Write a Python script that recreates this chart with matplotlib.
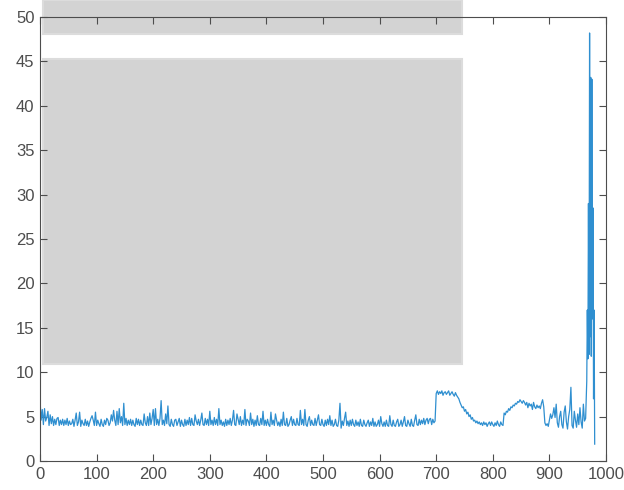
import numpy as np
import matplotlib.pyplot as plt
from matplotlib.patches import Rectangle

plt.rcParams['font.family'] = ['Liberation Sans', 'DejaVu Sans']

# flat part, one value every 2 samples, x = 0 .. 698
base_y = [6.9, 4.6, 5.8, 4.1, 5.9, 4.5, 4.9, 5.6, 4.0, 5.2,
          4.2, 5.0, 4.0, 4.7, 4.1, 4.8, 4.9, 4.0, 4.6, 4.1,
          4.7, 4.0, 4.6, 4.1, 4.8, 4.0, 4.5, 4.1, 4.2, 4.7,
          3.9, 4.6, 5.4, 4.0, 4.4, 5.5, 3.9, 4.6, 4.2, 4.0,
          4.7, 4.0, 4.5, 3.9, 4.4, 4.8, 5.1, 4.6, 4.0, 5.5,
          4.0, 4.6, 4.2, 3.9, 4.7, 4.1, 3.9, 4.6, 4.1, 4.8,
          4.6, 4.0, 4.3, 5.2, 4.5, 5.7, 4.6, 4.0, 5.6, 4.1,
          5.9, 4.3, 5.0, 4.0, 6.5, 4.1, 4.8, 4.0, 4.6, 4.1,
          4.7, 4.0, 4.6, 4.1, 3.9, 4.8, 4.1, 4.7, 4.0, 4.6,
          4.1, 4.0, 5.3, 4.3, 4.0, 5.0, 4.0, 5.4, 4.1, 4.8,
          5.8, 4.0, 5.9, 4.1, 4.7, 4.0, 4.8, 6.8, 4.1, 4.6,
          4.0, 5.3, 4.2, 6.2, 4.1, 3.9, 4.7, 4.1, 3.9, 4.6,
          4.7, 4.0, 4.4, 4.8, 3.9, 4.6, 4.1, 3.9, 4.7, 4.0,
          4.6, 4.1, 4.9, 4.0, 4.8, 4.1, 4.0, 5.2, 4.5, 4.1,
          4.7, 4.0, 4.6, 5.4, 4.1, 4.0, 4.8, 4.1, 4.7, 4.0,
          5.6, 4.1, 4.6, 4.0, 4.9, 4.1, 4.7, 4.0, 5.9, 4.1,
          4.6, 4.0, 4.4, 3.9, 4.7, 4.0, 4.6, 4.1, 4.8, 4.0,
          4.6, 5.7, 4.1, 4.0, 5.3, 4.7, 4.1, 5.0, 4.0, 4.6,
          4.1, 5.8, 4.0, 4.7, 4.5, 4.0, 5.4, 4.1, 4.7, 3.9,
          4.6, 4.0, 5.1, 4.1, 4.0, 4.8, 4.1, 5.6, 4.0, 4.6,
          4.0, 4.7, 4.1, 3.9, 5.5, 4.1, 4.6, 4.0, 5.3, 4.6,
          4.0, 4.4, 3.9, 4.7, 4.0, 5.5, 4.1, 4.0, 4.8, 3.9,
          4.1, 4.6, 5.0, 4.0, 4.7, 4.1, 4.0, 4.8, 4.1, 4.0,
          5.7, 4.1, 4.7, 4.0, 5.8, 4.1, 3.9, 4.6, 5.0, 4.0,
          4.6, 4.1, 4.0, 4.8, 4.0, 4.6, 5.2, 4.1, 4.0, 4.7,
          4.1, 3.9, 4.6, 4.0, 4.7, 4.1, 5.1, 4.0, 4.6, 3.9,
          4.1, 4.7, 4.0, 3.9, 4.6, 6.5, 3.7, 4.5, 4.0, 4.8,
          5.5, 4.0, 4.5, 3.9, 4.6, 4.0, 4.7, 4.1, 3.9, 4.6,
          4.0, 4.4, 3.9, 4.7, 4.0, 3.9, 4.6, 4.1, 3.9, 4.3,
          4.6, 3.9, 4.4, 4.0, 4.8, 3.9, 4.4, 3.9, 4.1, 4.6,
          3.9, 5.0, 4.2, 3.9, 4.4, 3.9, 4.6, 4.0, 3.9, 5.1,
          4.1, 3.9, 4.6, 4.0, 3.9, 4.4, 4.7, 3.9, 4.1, 4.6,
          3.9, 4.4, 5.0, 4.0, 3.9, 4.6, 4.2, 3.9, 4.7, 4.0,
          3.9, 4.6, 5.2, 4.1, 4.0, 4.7, 4.1, 4.6, 4.2, 4.8,
          4.1, 4.6, 4.8, 4.2, 4.7, 4.8, 4.1, 4.7, 4.3, 4.5]

# step, bump and noisy tail, one value every 2 samples, x = 700 .. 962
tail_y = [7.6, 7.9, 7.5, 7.8, 7.6, 7.9, 7.4, 7.7, 7.8, 7.5,
          7.7, 7.9, 7.4, 7.6, 7.8, 7.5, 7.3, 7.7, 7.4, 7.2,
          7.0, 6.6, 6.3, 6.0, 6.1, 5.6, 5.8, 5.3, 5.5, 5.0,
          5.2, 4.7, 4.9, 4.5, 4.6, 4.3, 4.5, 4.2, 4.4, 4.1,
          4.3, 4.0, 4.4, 4.1, 4.3, 3.9, 4.2, 4.4, 4.0, 4.4,
          4.1, 3.9, 4.3, 4.0, 4.5, 4.1, 3.9, 4.4, 4.1, 4.0,
          5.4, 5.2, 5.6, 5.5, 5.9, 5.7, 6.1, 6.0, 6.3, 6.2,
          6.5, 6.4, 6.7, 6.6, 6.9, 6.7, 6.5, 6.8, 6.6, 6.3,
          6.6, 6.0, 6.5, 6.2, 6.4, 5.8, 6.6, 6.1, 5.9, 6.3,
          6.0, 6.2, 5.9, 6.5, 6.9, 6.1, 4.3, 4.0, 4.2, 3.9,
          4.6, 5.3, 4.8, 5.2, 6.0, 4.9, 6.4, 4.3, 3.8, 5.0,
          5.6, 4.1, 3.7, 5.5, 6.2, 4.4, 3.6, 5.0, 5.8, 8.3,
          4.0, 3.7, 5.6, 4.6, 3.8, 5.3, 4.1, 6.0, 4.4, 3.7,
          6.4, 4.5]

# final burst
burst_x = [964, 966, 967, 968, 969, 970, 971, 972, 973, 974, 975, 976, 977, 978, 979, 980]
burst_y = [4.8, 9.0, 17.0, 11.5, 29.0, 12.0, 48.2, 14.0, 43.2, 11.8, 43.0, 16.0, 28.5, 7.0, 17.0, 1.9]

x = np.concatenate([np.arange(len(base_y)) * 2,
                    700 + np.arange(len(tail_y)) * 2,
                    burst_x])
y = np.concatenate([base_y, tail_y, burst_y])

fig = plt.figure(figsize=(6.24, 4.90), dpi=100)
ax = fig.add_axes([40 / 624, 29 / 490, 566 / 624, 444 / 490])

ax.plot(x, y, color='#2f8fd0', lw=0.9)

ax.set_xlim(0, 1000)
ax.set_ylim(0, 50)
ax.set_xticks(np.arange(0, 1001, 100))
ax.set_yticks(np.arange(0, 51, 5))

ax.tick_params(direction='in', top=True, right=True, length=5, pad=4,
               color='#4d4d4d', labelcolor='#4d4d4d', labelsize=12)
for s in ax.spines.values():
    s.set_color('#4d4d4d')
    s.set_linewidth(0.8)

# grey boxes covering part of the plot
for (px, py, pw, ph) in [(43, 0, 419, 34), (43, 59, 419, 305)]:
    ax.add_patch(Rectangle((px / 624, 1 - (py + ph) / 490), pw / 624, ph / 490,
                           transform=fig.transFigure, clip_on=False,
                           facecolor='#d3d3d3', edgecolor='#dcdcdc', lw=1.5, zorder=1.5))

fig.savefig('out.png', dpi=100)
